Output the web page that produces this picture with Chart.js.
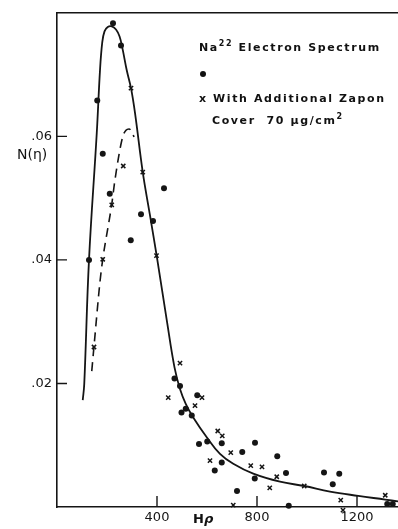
<!DOCTYPE html>
<html>
<head>
<meta charset="utf-8">
<script src="https://cdn.jsdelivr.net/npm/chart.js@4/dist/chart.umd.min.js"></script>
<style>
  body { margin: 0; background: #fff; overflow: hidden; }
  #wrap { position: relative; width: 398px; height: 529px; }
  canvas { display: block; }
  .txt { position: absolute; color: #111; font-family: "DejaVu Sans", sans-serif; white-space: nowrap; }
  .leg { font-weight: bold; font-size: 11px; letter-spacing: 1.6px; }
  .leg sup { font-size: 8px; vertical-align: 5px; line-height: 0; }
  .dot { position: absolute; width: 6px; height: 6px; border-radius: 3px; background: #111; }
</style>
</head>
<body>
<div id="wrap">
  <canvas id="spectrum"></canvas>
  <div class="txt leg" style="left:199px;top:41px">Na<sup>22</sup> Electron Spectrum</div>
  <div class="dot" style="left:200px;top:71px"></div>
  <div class="txt leg" style="left:199px;top:92px">x With Additional Zapon</div>
  <div class="txt leg" style="left:212px;top:114px">Cover&nbsp; 70 µg/cm<sup>2</sup></div>
  <div class="txt" style="left:17px;top:146px;font-size:14px">N(η)</div>
  <div class="txt" style="left:193px;top:511px;font-size:13px;font-weight:bold">H<i>ρ</i></div>
</div>
<script>
// x = H rho, y = N(eta)
const xTicks = [400, 800, 1200]
const yTicks = [0.02, 0.04, 0.06]

const dotX = [224, 256, 161, 183, 428, 211, 336, 384, 295, 128, 470, 492, 515, 498, 539, 561, 568, 601, 659, 741, 792, 659, 631, 791, 881, 916, 720, 1068, 1129, 1103, 1321, 1343, 927]
const dotY = [0.0783, 0.0747, 0.0658, 0.0572, 0.0516, 0.0507, 0.0474, 0.0463, 0.0432, 0.0400, 0.0208, 0.0196, 0.0159, 0.0153, 0.0148, 0.0181, 0.0102, 0.0106, 0.0103, 0.0089, 0.0104, 0.0072, 0.0059, 0.0046, 0.0082, 0.0055, 0.0026, 0.0056, 0.0054, 0.0037, 0.0005, 0.0005, 0.0002]

const crossX = [296, 265, 343, 219, 183, 398, 148, 492, 445, 580, 552, 643, 661, 695, 612, 775, 820, 879, 851, 705, 989, 1135, 1313, 1144]
const crossY = [0.0678, 0.0552, 0.0542, 0.0489, 0.0401, 0.0407, 0.0259, 0.0233, 0.0177, 0.0177, 0.0164, 0.0123, 0.0115, 0.0088, 0.0075, 0.0067, 0.0065, 0.0049, 0.0031, 0.0003, 0.0034, 0.0011, 0.0019, -0.0005]

const curveX = [103, 109, 128, 159, 172, 181, 190, 203, 219, 236, 250, 262, 279, 296, 312, 343, 372, 399, 440, 470, 492, 515, 545, 599, 652, 705, 785, 892, 989, 1092, 1205, 1313, 1364]
const curveY = [0.0173, 0.0199, 0.0400, 0.0605, 0.0707, 0.0752, 0.0770, 0.0777, 0.0778, 0.0773, 0.0762, 0.0742, 0.0707, 0.0678, 0.0638, 0.0542, 0.0472, 0.0406, 0.0300, 0.0226, 0.0191, 0.0167, 0.0145, 0.0113, 0.0086, 0.0070, 0.0054, 0.0041, 0.0034, 0.0025, 0.0018, 0.0012, 0.0009]

const dashX = [139, 148, 172, 183, 219, 232, 262, 276, 288, 300, 308]
const dashY = [0.0220, 0.0260, 0.0365, 0.0401, 0.0490, 0.0530, 0.0598, 0.0610, 0.0612, 0.0607, 0.0599]

const ink = "#151515"

function pts(xs, ys) {
  return xs.map((x, i) => ({ x: x, y: ys[i] }))
}

// tick marks point inward, as on the original plate
const inwardTicks = {
  id: "inwardTicks",
  afterDraw(chart) {
    const ctx = chart.ctx
    const a = chart.chartArea
    const xs = chart.scales.x
    const ys = chart.scales.y
    ctx.save()
    ctx.strokeStyle = ink
    ctx.lineWidth = 1.4
    ctx.beginPath()
    xTicks.forEach(v => {
      const px = xs.getPixelForValue(v)
      ctx.moveTo(px, a.bottom)
      ctx.lineTo(px, a.bottom - 11)
    })
    yTicks.forEach(v => {
      const py = ys.getPixelForValue(v)
      ctx.moveTo(a.left, py)
      ctx.lineTo(a.left + 10, py)
    })
    ctx.stroke()
    ctx.restore()
  }
}

const ctx = document.getElementById("spectrum").getContext("2d")
new Chart(ctx, {
  type: "scatter",
  data: {
    datasets: [
      {
        label: "Na22",
        data: pts(dotX, dotY),
        pointStyle: "circle",
        pointRadius: 3,
        backgroundColor: ink,
        borderColor: ink,
        borderWidth: 0,
        clip: false
      },
      {
        label: "Zapon",
        data: pts(crossX, crossY),
        pointStyle: "crossRot",
        pointRadius: 3,
        borderColor: ink,
        borderWidth: 1.5,
        clip: false
      },
      {
        label: "curve",
        type: "line",
        data: pts(curveX, curveY),
        showLine: true,
        pointRadius: 0,
        borderColor: ink,
        borderWidth: 1.8,
        tension: 0.4,
        fill: false
      },
      {
        label: "curve zapon",
        type: "line",
        data: pts(dashX, dashY),
        showLine: true,
        pointRadius: 0,
        borderColor: ink,
        borderWidth: 1.6,
        borderDash: [9, 6],
        cubicInterpolationMode: "monotone",
        fill: false
      }
    ]
  },
  options: {
    responsive: true,
    maintainAspectRatio: false,
    animation: false,
    layout: { padding: 0, autoPadding: false },
    plugins: {
      legend: { display: false },
      tooltip: { enabled: false }
    },
    scales: {
      x: {
        type: "linear",
        position: "bottom",
        min: 0,
        max: 1364,
        afterBuildTicks: s => { s.ticks = xTicks.map(v => ({ value: v })) },
        afterFit: s => { s.height = 22 },
        grid: { display: false, drawTicks: false },
        border: { display: true, color: ink, width: 1.6 },
        ticks: {
          color: ink,
          padding: 3,
          maxRotation: 0,
          font: { family: "DejaVu Sans", size: 13 },
          callback: v => String(v)
        }
      },
      top: {
        type: "linear",
        position: "top",
        min: 0,
        max: 1364,
        afterFit: s => { s.height = 9 },
        grid: { display: false, drawTicks: false },
        border: { display: true, color: ink, width: 1.6 },
        ticks: { display: false }
      },
      y: {
        type: "linear",
        min: 0,
        max: 0.08,
        afterBuildTicks: s => { s.ticks = yTicks.map(v => ({ value: v })) },
        afterFit: s => { s.width = 57 },
        grid: { display: false, drawTicks: false },
        border: { display: true, color: ink, width: 1.6 },
        ticks: {
          color: ink,
          padding: 5,
          font: { family: "DejaVu Sans", size: 13 },
          callback: v => v.toFixed(2).replace("0.", ".")
        }
      }
    }
  },
  plugins: [inwardTicks]
})
</script>
</body>
</html>
